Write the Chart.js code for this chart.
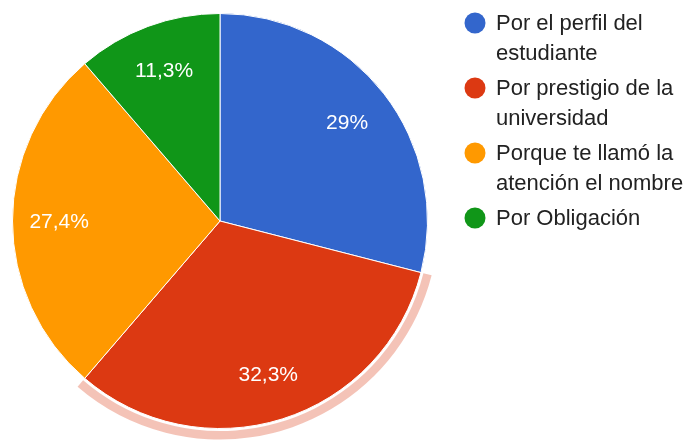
<!DOCTYPE html>
<html>
<head>
<meta charset="utf-8">
<script src="https://cdn.jsdelivr.net/npm/chart.js@4/dist/chart.umd.min.js"></script>
<style>
  html, body { margin: 0; padding: 0; background: #fff; }
  #wrap { width: 684px; height: 441px; position: relative; }
</style>
</head>
<body>
<div id="wrap"><canvas id="pieChart"></canvas></div>
<script>
// Survey answers and their share (%)
const categories = ['Por el perfil del estudiante', 'Por prestigio de la universidad', 'Porque te llamó la atención el nombre', 'Por Obligación'];
const shares = [29, 32.3, 27.4, 11.3];
const colors = ['#3366cc', '#dc3912', '#ff9900', '#109618'];
const highlighted = 1; // slice drawn with the outer halo

const LABEL_FONT = '21px "Liberation Sans", Arial, sans-serif';
const LEGEND_FONT = '22px "Liberation Sans", Arial, sans-serif';

function fmtPct(v) {
    return v.toString().replace('.', ',') + '%';
}

// pale ring around the selected slice
const haloPlugin = {
    id: 'halo',
    beforeDatasetsDraw(chart) {
        const arc = chart.getDatasetMeta(0).data[highlighted];
        if (!arc) return;
        const {x, y, startAngle, endAngle, outerRadius} = arc.getProps(['x', 'y', 'startAngle', 'endAngle', 'outerRadius'], true);
        const ctx = chart.ctx;
        ctx.save();
        ctx.beginPath();
        ctx.arc(x, y, outerRadius + 11, startAngle, endAngle);
        ctx.arc(x, y, outerRadius + 2.5, endAngle, startAngle, true);
        ctx.closePath();
        ctx.fillStyle = 'rgba(220, 57, 18, 0.3)';
        ctx.fill();
        ctx.restore();
    }
};

// percentage text inside each slice
const sliceLabels = {
    id: 'sliceLabels',
    afterDatasetsDraw(chart) {
        const ctx = chart.ctx;
        const meta = chart.getDatasetMeta(0);
        ctx.save();
        ctx.font = LABEL_FONT;
        ctx.fillStyle = '#ffffff';
        ctx.textAlign = 'center';
        ctx.textBaseline = 'middle';
        meta.data.forEach((arc, i) => {
            const {x, y, startAngle, endAngle, outerRadius} = arc.getProps(['x', 'y', 'startAngle', 'endAngle', 'outerRadius'], true);
            const mid = (startAngle + endAngle) / 2;
            const r = outerRadius * 0.775;
            ctx.fillText(fmtPct(shares[i]), x + Math.cos(mid) * r, y + Math.sin(mid) * r + 1);
        });
        ctx.restore();
    }
};

// legend on the right with wrapped labels
function wrapText(ctx, text, maxWidth) {
    const words = text.split(' ');
    const lines = [];
    let line = '';
    words.forEach(w => {
        const test = line ? line + ' ' + w : w;
        if (line && ctx.measureText(test).width > maxWidth) {
            lines.push(line);
            line = w;
        } else {
            line = test;
        }
    });
    if (line) lines.push(line);
    return lines;
}

const sideLegend = {
    id: 'sideLegend',
    afterDraw(chart) {
        const ctx = chart.ctx;
        ctx.save();
        ctx.font = LEGEND_FONT;
        ctx.textBaseline = 'middle';
        ctx.textAlign = 'left';
        let y = 23;
        categories.forEach((label, i) => {
            ctx.beginPath();
            ctx.arc(475, y, 10.5, 0, Math.PI * 2);
            ctx.fillStyle = colors[i];
            ctx.fill();
            ctx.fillStyle = '#222222';
            const lines = wrapText(ctx, label, 190);
            lines.forEach((ln, k) => ctx.fillText(ln, 496, y + 1 + k * 30));
            y += (lines.length - 1) * 30 + 35;
        });
        ctx.restore();
    }
};

new Chart(document.getElementById('pieChart'), {
    type: 'pie',
    data: {
        labels: categories,
        datasets: [{
            data: shares,
            backgroundColor: colors,
            borderColor: '#ffffff',
            borderWidth: 1,
            hoverOffset: 0,
            offset: 0
        }]
    },
    options: {
        responsive: true,
        maintainAspectRatio: false,
        animation: false,
        events: [],
        layout: { padding: { left: 12, top: 13, right: 256, bottom: 12 } },
        plugins: {
            legend: { display: false },
            tooltip: { enabled: false }
        }
    },
    plugins: [haloPlugin, sliceLabels, sideLegend]
});
</script>
</body>
</html>
